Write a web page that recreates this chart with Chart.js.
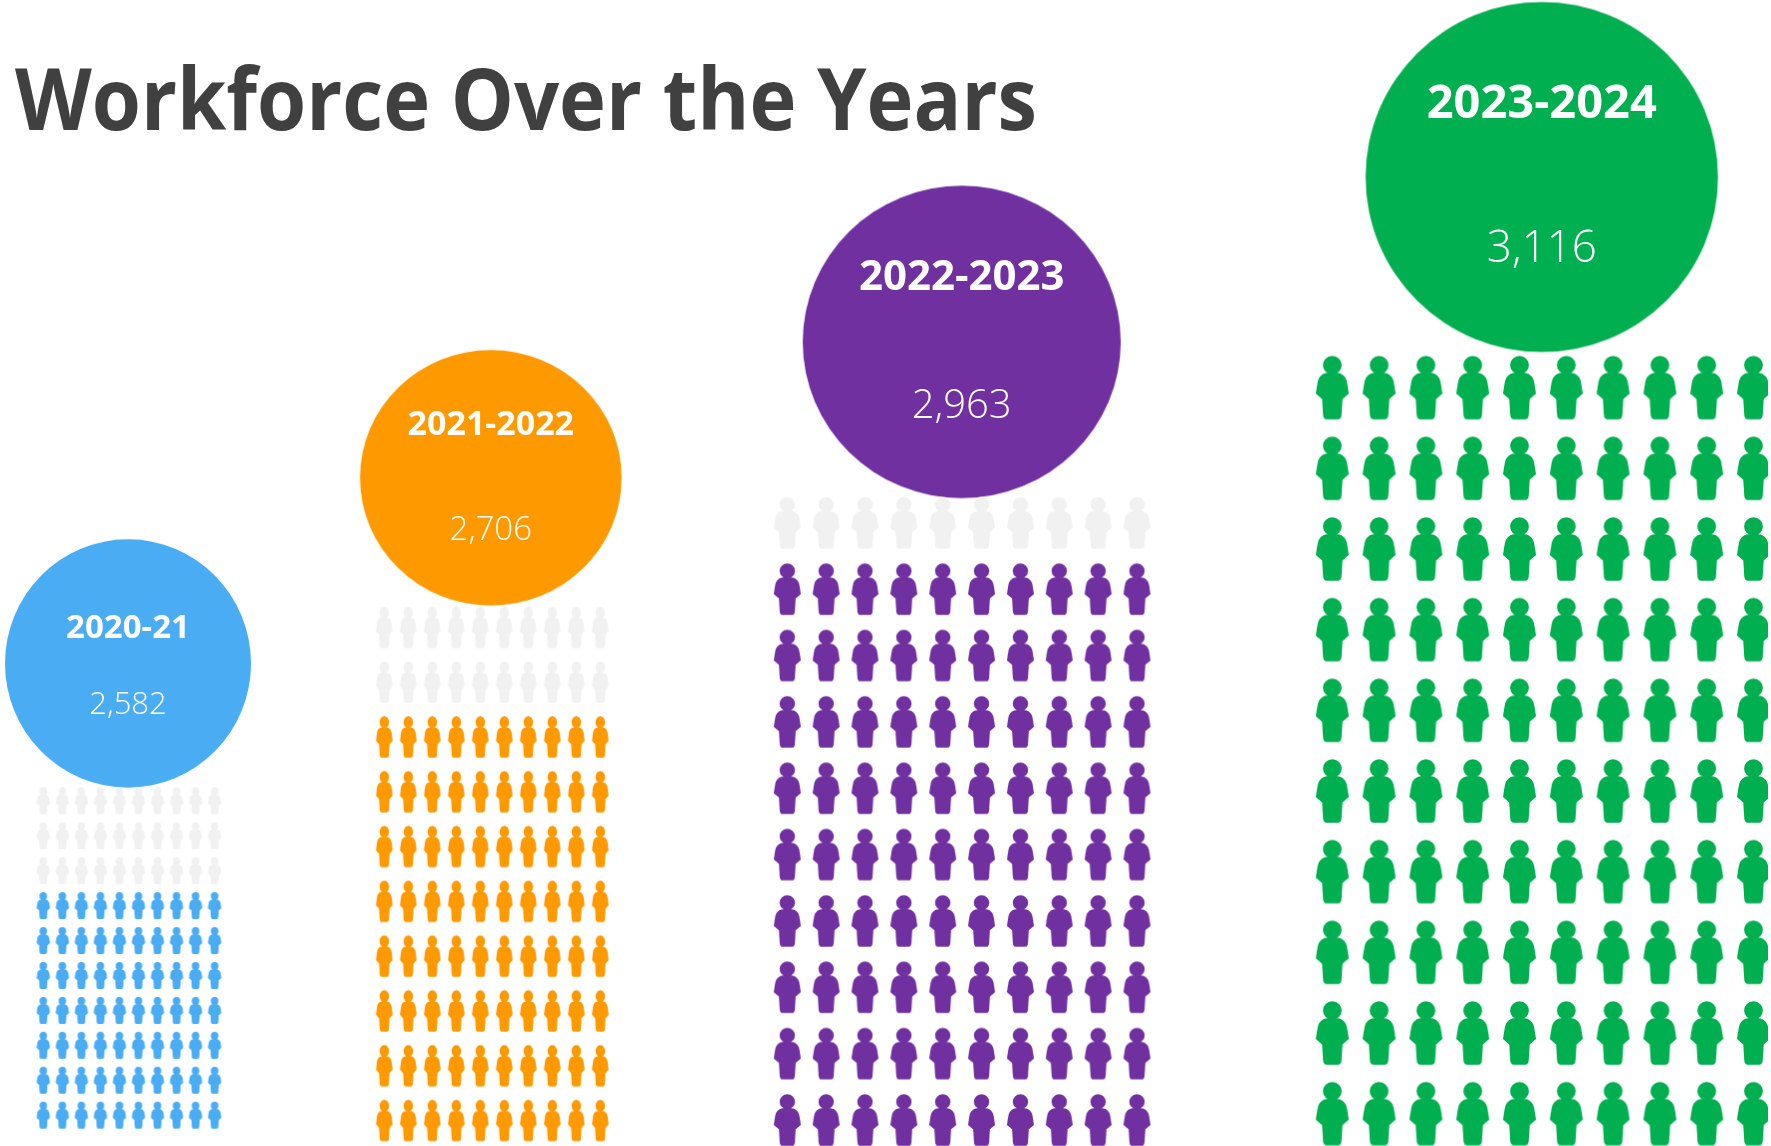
<!DOCTYPE html>
<html><head><meta charset="utf-8">
<style>html,body{margin:0;padding:0;background:#fff}canvas{display:block}</style>
<script src="https://cdn.jsdelivr.net/npm/chart.js@4"></script>
</head><body>
<canvas id="c" width="1771" height="1146" style="width:1771px;height:1146px"></canvas>
<script>
const chartTitle = 'Workforce Over the Years';
const categories = ['2020-21', '2021-2022', '2022-2023', '2023-2024'];
const workforce = [2582, 2706, 2963, 3116];
const filledRows = [7, 8, 9, 10];
const columnsPerRow = 10;
const rowsPerPanel = 10;

const colors = ['#4AADF4', '#FF9900', '#7030A0', '#00B050'];
const emptyColor = '#F1F1F1';
const W = 1771, H = 1146;
// geometry of each panel, in page pixels
const panels = [
  {x0:43.3, dx:19.03, y0:800.8, dy:34.93, w:13.4, h:27,   cx:128,   cy:663.4, rx:123,   ry:124.2, ly:637.5, vy:714, fs:33, fv:31},
  {x0:384.3,dx:24.0,  y0:627.3, dy:54.8,  w:16.6, h:41.5, cx:490.8, cy:477.8, rx:130.8, ry:127.8, ly:435, vy:540, fs:34, fv:33},
  {x0:787.3,dx:38.85, y0:522.8, dy:66.35, w:27,   h:51.5, cx:961.7, cy:341.9, rx:159,   ry:156.2, ly:289.5, vy:418, fs:42, fv:40},
  {x0:1332.3,dx:46.8, y0:387.6, dy:80.67, w:33,   h:63.6, cx:1541.8,cy:177,   rx:176.2, ry:175.1, ly:118, vy:262, fs:47, fv:44, clipRight:-3}
];

function personImage(w, h, color) {
  const c = document.createElement('canvas');
  c.width = Math.ceil(w) + 6; c.height = Math.ceil(h) + 6;
  const g = c.getContext('2d');
  g.filter = 'blur(0.45px)';
  g.translate(c.width / 2, (c.height - h) / 2);
  g.scale(w, h);
  g.fillStyle = color;
  g.beginPath();
  g.ellipse(0, 0.145, 0.285, 0.145, 0, 0, Math.PI * 2);
  g.moveTo(0, 0.265);
  g.bezierCurveTo(0.2, 0.265, 0.38, 0.275, 0.44, 0.40);
  g.quadraticCurveTo(0.47, 0.48, 0.5, 0.595);
  g.quadraticCurveTo(0.40, 0.64, 0.31, 0.68);
  g.lineTo(0.28, 0.93);
  g.quadraticCurveTo(0.27, 1, 0.17, 1);
  g.lineTo(-0.17, 1);
  g.quadraticCurveTo(-0.27, 1, -0.28, 0.93);
  g.lineTo(-0.31, 0.68);
  g.quadraticCurveTo(-0.40, 0.64, -0.5, 0.595);
  g.quadraticCurveTo(-0.47, 0.48, -0.44, 0.40);
  g.bezierCurveTo(-0.38, 0.275, -0.2, 0.265, 0, 0.265);
  g.closePath();
  g.fill();
  return c;
}
function discImage(rx, ry, color) {
  const c = document.createElement('canvas');
  c.width = Math.ceil(rx * 2) + 2; c.height = Math.ceil(ry * 2) + 2;
  const g = c.getContext('2d');
  g.fillStyle = color;
  g.beginPath();
  g.ellipse(c.width / 2, c.height / 2, rx, ry, 0, 0, Math.PI * 2);
  g.fill();
  return c;
}

const datasets = [], scales = {};
panels.forEach((p, i) => {
  const xId = 'x' + i, yId = 'y' + i;
  scales[xId] = {type:'linear', axis:'x', display:false, bounds:'data', min:(0 - p.x0) / p.dx, max:(W - p.x0) / p.dx};
  scales[yId] = {type:'linear', axis:'y', display:false, bounds:'data', reverse:true, min:(0 - p.y0) / p.dy, max:(H - p.y0) / p.dy};
  const emptyPts = [], fullPts = [];
  for (let r = 0; r < rowsPerPanel; r++) for (let col = 0; col < columnsPerRow; col++) {
    (r < rowsPerPanel - filledRows[i] ? emptyPts : fullPts).push({x:col, y:r});
  }
  const common = {type:'scatter', xAxisID:xId, yAxisID:yId, pointRadius:5};
  if (p.clipRight) common.clip = {left:0, top:0, bottom:0, right:p.clipRight};
  datasets.push({...common, label:categories[i] + ' open', data:emptyPts, pointStyle:personImage(p.w, p.h, emptyColor)});
  datasets.push({...common, label:categories[i], data:fullPts, pointStyle:personImage(p.w, p.h, colors[i])});
  datasets.push({...common, label:categories[i] + ' total',
    data:[{x:(p.cx - p.x0) / p.dx, y:(p.cy - p.y0) / p.dy, v:workforce[i]}],
    pointStyle:discImage(p.rx, p.ry, colors[i])});
});

const textPlugin = {
  id:'pictogramText',
  afterDraw(chart) {
    const g = chart.ctx;
    g.save();
    g.textBaseline = 'alphabetic';
    g.textAlign = 'left';
    g.fillStyle = '#404040';
    g.font = 'bold 86px "Open Sans"';
    g.fillText(chartTitle, 15, 130, 1022);
    g.textAlign = 'center';
    g.fillStyle = '#FFFFFF';
    panels.forEach((p, i) => {
      g.font = 'bold ' + p.fs + 'px "Open Sans"';
      g.fillText(categories[i], p.cx, p.ly);
      g.font = '350 ' + p.fv + 'px "Open Sans"';
      g.fillText(workforce[i].toLocaleString('en-US'), p.cx, p.vy);
    });
    g.restore();
  }
};

new Chart(document.getElementById('c'), {
  type:'scatter',
  data:{datasets},
  options:{
    responsive:false, animation:false, events:[],
    layout:{padding:0, autoPadding:false},
    scales,
    plugins:{legend:{display:false}, tooltip:{enabled:false}, title:{display:false}}
  },
  plugins:[textPlugin]
});
</script>
</body></html>
